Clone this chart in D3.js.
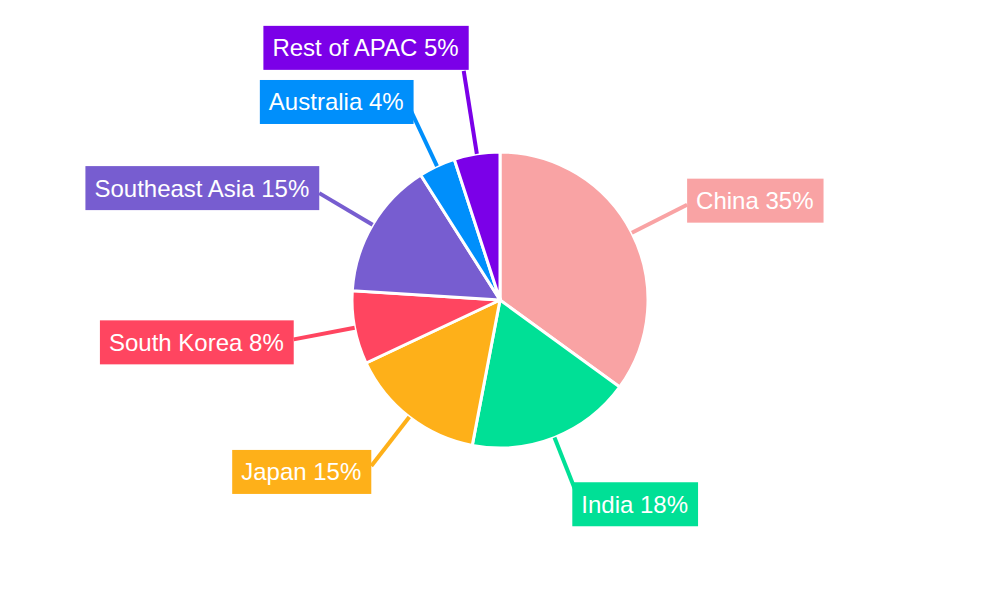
<!DOCTYPE html><html><head><meta charset="utf-8">
<script src="https://cdn.jsdelivr.net/npm/d3@7/dist/d3.min.js"></script>
<style>body{margin:0;background:#fff}</style></head><body>
<svg id="c" width="1000" height="600"></svg>
<script>
const categories=["China","India","Japan","South Korea","Southeast Asia","Australia","Rest of APAC"];
const values=[35,18,15,8,15,4,5];
const colors=["#f9a3a4","#00e096","#feb019","#ff4560","#775dd0","#008ffb","#7b00e8"];
const svg=d3.select("#c"),cx=500,cy=300,R=148;
const g=svg.append("g").attr("transform",`translate(${cx},${cy})`);
const arcs=d3.pie().sort(null)(values);
const arc=d3.arc().innerRadius(0).outerRadius(R);
g.selectAll("path").data(arcs).join("path").attr("d",arc).attr("fill",(d,i)=>colors[i]).attr("stroke","#fff").attr("stroke-width",3);
const lr=[210,210,210,210,210,210,232];
arcs.forEach((d,i)=>{
  const a=(d.startAngle+d.endAngle)/2,s=Math.sin(a),c=-Math.cos(a);
  const x1=s*R,y1=c*R,x2=s*lr[i],y2=c*lr[i];
  g.append("line").attr("x1",x1).attr("y1",y1).attr("x2",x2).attr("y2",y2).attr("stroke",colors[i]).attr("stroke-width",4);
  const lab=g.append("g");
  const t=lab.append("text").text(`${categories[i]} ${values[i]}%`).attr("font-family","Liberation Sans, Arial, sans-serif").attr("font-size",24).attr("fill","#fff").attr("dy","0.35em");
  const w=t.node().getComputedTextLength()+19,h=44;
  let bx,by;
  if(i===6){bx=x2-w+5;by=y2-h-1;}
  else if(s>0){bx=x2;by=y2-h/2-4;}
  else{bx=x2-w;by=y2-h/2+3;}
  if(i===1){bx=x2-5;by=y2-13;}
  if(i===2){by=y2-16;}
  if(i===5){bx=x2-w+3;by=y2-30;}
  if(i===4){by=y2-27;}
  lab.insert("rect","text").attr("x",bx).attr("y",by).attr("width",w).attr("height",h).attr("fill",colors[i]);
  t.attr("x",bx+9).attr("y",by+h/2);
});
</script></body></html>
